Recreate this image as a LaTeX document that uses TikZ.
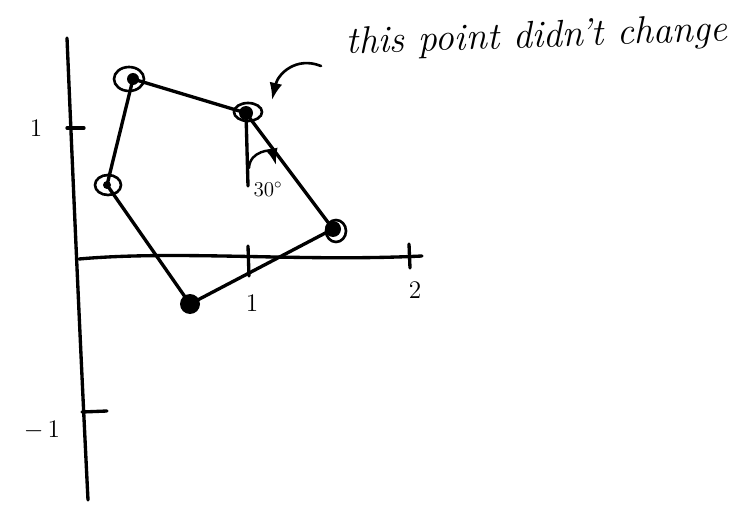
\documentclass[tikz,border=0pt]{standalone}
\usepackage{amsmath,amssymb}
\usepackage{xcolor}
\usetikzlibrary{arrows.meta,positioning,calc,shapes.geometric}

\begin{document}
\begin{tikzpicture}[x=0.02cm,y=-0.02cm,>=Latex,line width=1.9pt,line cap=round,
  ring/.style={line width=1.5pt},
  lbl/.style={font=\Large,inner sep=1pt}]
  \useasboundingbox (0,0) rectangle (744,517);
  % axes
  \coordinate (ytop) at (67,38);
  \coordinate (ybot) at (88,500);
  \coordinate (xleft) at (79,259);
  \coordinate (xright) at (422,256);
  \draw (ytop) .. controls (76,250) and (82,380) .. (ybot);
  \draw (xleft) .. controls (180,250) and (300,262) .. (xright);
  \draw (248,246) -- (249,276);
  \draw (409,244) -- (410,268);
  \draw (67,128) -- (84,128);
  \draw (82,412) -- (107,411);
  \node[lbl] (x1) at (252,303) {1};
  \node[lbl] (x2) at (415,290) {2};
  \node[lbl] (y1) at (36,128) {1};
  \node[lbl] (ym1) at (42,430) {$-$\,1};
  % points
  \coordinate (p1) at (133,79);
  \coordinate (p2) at (246,113);
  \coordinate (p3) at (107,185);
  \coordinate (p4) at (190,304);
  \coordinate (p5) at (333,229);
  \draw (p1) -- (p2) -- (p5) -- (p4) -- (p3) -- (p1);
  \fill (p1) circle[radius=6];
  \fill (p2) circle[radius=7];
  \fill (p3) circle[radius=4];
  \fill (p4) circle[radius=10];
  \fill (p5) circle[radius=8];
  \draw[ring] (129,79) ellipse[x radius=15,y radius=12];
  \draw[ring] (248,112) ellipse[x radius=14,y radius=9];
  \draw[ring] (108,185) ellipse[x radius=13,y radius=10];
  \draw[ring] (336,231) ellipse[x radius=10,y radius=11];
  % angle at p2
  \coordinate (foot) at (248,186);
  \draw (p2) -- (foot);
  \draw[->,line width=1.4pt] (249,168) .. controls (250,150) and (272,150) .. (276,165);
  \node[font=\large,inner sep=0pt] (ang) at (268,189) {$30^\circ$};
  % note
  \node[font=\huge\itshape,anchor=base west,rotate=2,scale=1.05,inner sep=0pt] (note) at (345,54) {this point didn't change};
  \draw[->,line width=1.5pt] (321,66) .. controls (296,56) and (278,74) .. (272,100);
\end{tikzpicture}
\end{document}
